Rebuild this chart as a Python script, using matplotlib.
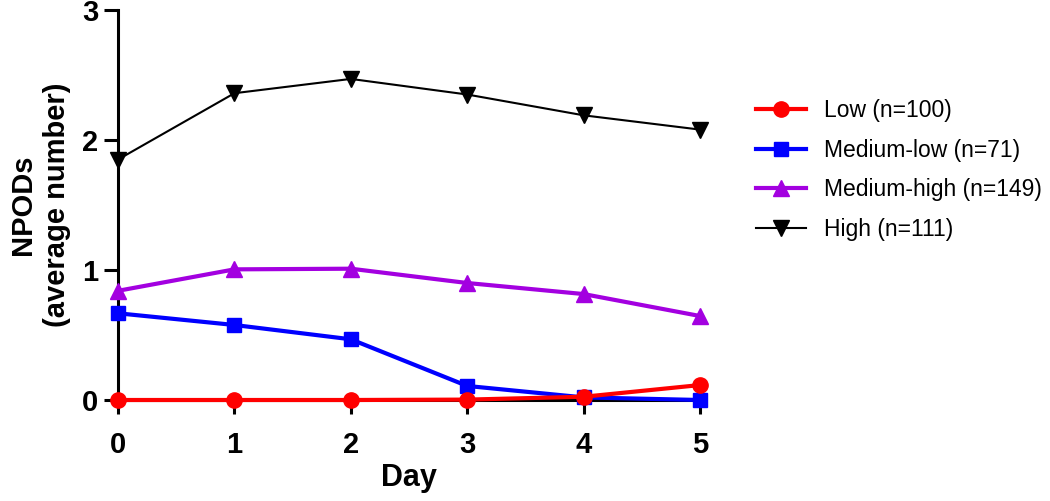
import matplotlib
matplotlib.use("Agg")
import matplotlib.pyplot as plt

plt.rcParams['font.family'] = ['Liberation Sans', 'DejaVu Sans']

days = [0, 1, 2, 3, 4, 5]
low = [0.0, 0.0, 0.0, 0.003, 0.025, 0.115]
medium_low = [0.667, 0.577, 0.467, 0.108, 0.02, 0.0]
medium_high = [0.84, 1.005, 1.01, 0.90, 0.815, 0.646]
high = [1.85, 2.36, 2.47, 2.35, 2.19, 2.08]

labels = ["Low (n=100)", "Medium-low (n=71)", "Medium-high (n=149)", "High (n=111)"]

fig = plt.figure(figsize=(10.5, 5.01), dpi=100)
ax = fig.add_axes([0.1124, 0.2016, 0.5543, 0.7784])

ax.plot(days, high, color="black", lw=1.5, marker="v", ms=11, clip_on=False, zorder=3, label=labels[3])
ax.plot(days, medium_high, color="#a300e0", lw=3, marker="^", ms=11, clip_on=False, zorder=4, label=labels[2])
ax.plot(days, medium_low, color="#0000ff", lw=3, marker="s", ms=10, clip_on=False, zorder=5, label=labels[1])
ax.plot(days, low, color="#ff0000", lw=3, marker="o", ms=11, clip_on=False, zorder=6, label=labels[0])

ax.set_xlim(0, 5)
ax.set_ylim(0, 3)
ax.set_xticks(days)
ax.set_yticks([0, 1, 2, 3])
for s in ["top", "right"]:
    ax.spines[s].set_visible(False)
for s in ["left", "bottom"]:
    ax.spines[s].set_linewidth(2.2)
ax.tick_params(width=2.2, length=10)
ax.tick_params(axis="x", pad=12)
ax.tick_params(axis="y", pad=4)
for t in ax.get_xticklabels() + ax.get_yticklabels():
    t.set_fontweight("bold")
    t.set_fontsize(21)

ax.set_xlabel("Day", fontsize=22, fontweight="bold", labelpad=3)
ax.set_ylabel("NPODs\n(average number)", fontsize=21, fontweight="bold", labelpad=8, linespacing=1.3)

h, l = ax.get_legend_handles_labels()
order = [3, 2, 1, 0]
ax.legend([h[i] for i in order], [l[i] for i in order], loc="center left",
          bbox_to_anchor=(1.06, 0.59), frameon=False, fontsize=16.5,
          handlelength=2.2, handletextpad=0.8, labelspacing=0.72)

fig.savefig("out.png", dpi=100)
